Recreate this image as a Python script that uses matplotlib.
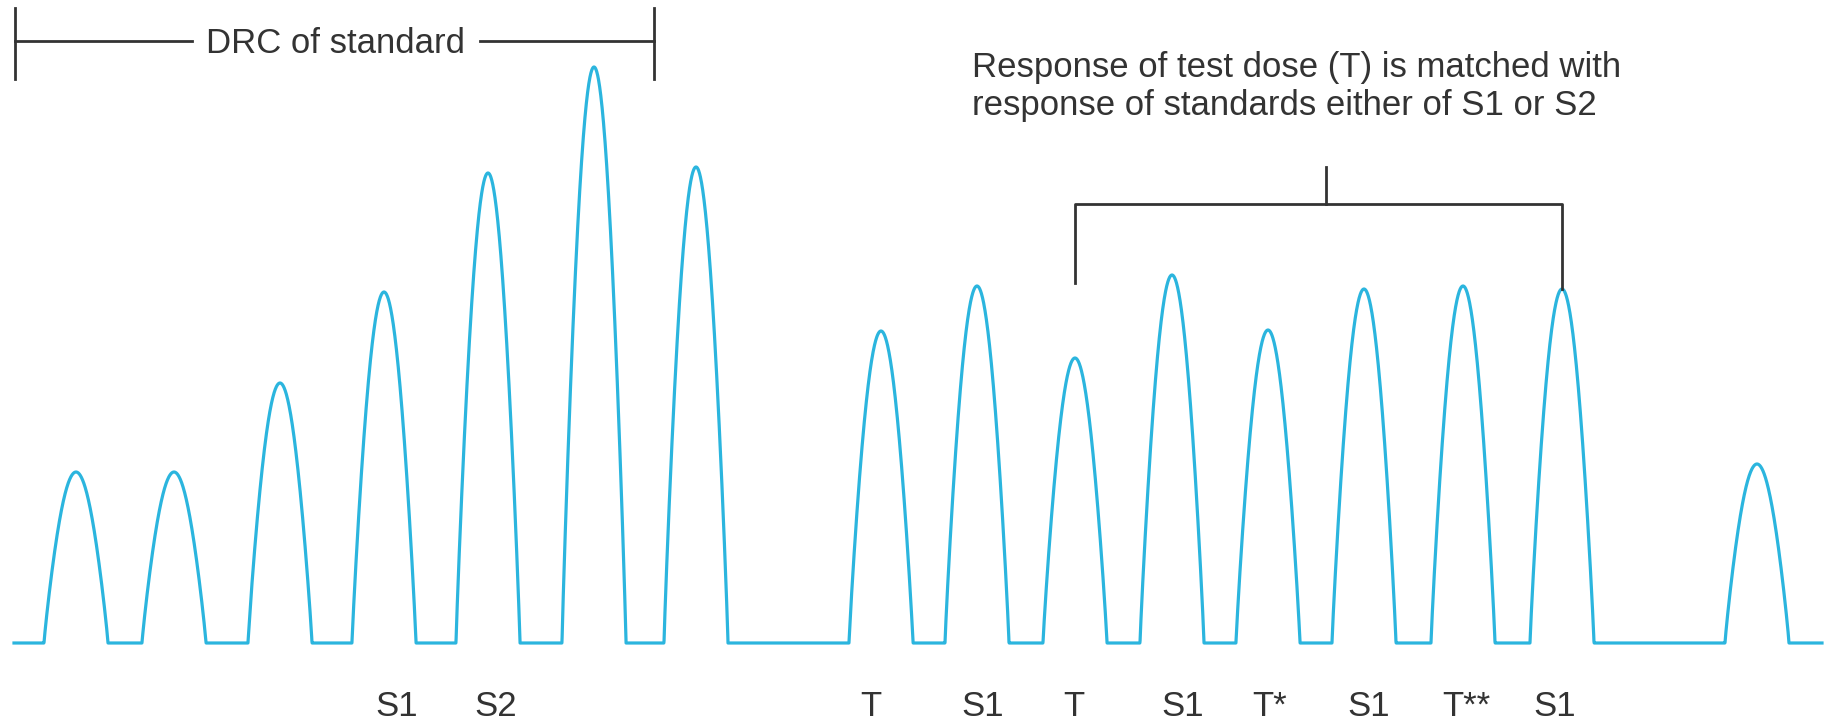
import matplotlib.pyplot as plt
import numpy as np

# ---- peak data (x position, response height above baseline)
std_x = [76, 174, 280, 384, 488, 594, 696]
std_h = [171, 171, 260, 351, 470, 576, 476]
test_x = [881, 977, 1075, 1172, 1268, 1364, 1463, 1562]
test_h = [312, 357, 285, 368, 313, 354, 357, 354]
last_x = [1757]
last_h = [179]

labels = ["S1", "S2", "T", "S1", "T", "S1", "T*", "S1", "T**", "S1"]
label_x = [397, 496, 871, 983, 1074, 1183, 1270, 1369, 1466, 1555]

x_start, x_end = 14, 1822
half_w = 32
blue = "#2bb5de"
ink = "#333333"
font = "Liberation Sans"


def peak_shape(u):
        # arch: 1 at the centre, 0 at |u| = 1
        return np.cos(np.pi * u / 2) ** 0.9


xs = np.linspace(x_start, x_end, 8000)
ys = np.zeros_like(xs)
for px, ph in zip(std_x + test_x + last_x, std_h + test_h + last_h):
        u = (xs - px) / half_w
        inside = np.abs(u) < 1
        ys[inside] = ph * peak_shape(u[inside])

fig = plt.figure(figsize=(18.31, 7.21), dpi=100)
ax = fig.add_axes([0, 0, 1, 1])
ax.set_xlim(0, 1831)
ax.set_ylim(-78, 643)
ax.axis("off")

ax.plot(xs, ys, color=blue, lw=2.3, solid_joinstyle="round")

# ---- DRC of standard bracket
ax.plot([15, 15], [564, 635], color=ink, lw=2)
ax.plot([654, 654], [564, 635], color=ink, lw=2)
ax.plot([15, 192], [602, 602], color=ink, lw=2)
ax.plot([480, 654], [602, 602], color=ink, lw=2)
ax.text(336, 590, "DRC of standard", ha="center", va="baseline",
        fontsize=25, family=font, color=ink)

# ---- matching bracket
ax.plot([test_x[2], test_x[2], test_x[-1], test_x[-1]],
        [360, 439, 439, test_h[-1]], color=ink, lw=2)
ax.plot([1326, 1326], [439, 476], color=ink, lw=2)
ax.text(972, 566, "Response of test dose (T) is matched with", ha="left",
        va="baseline", fontsize=25, family=font, color=ink)
ax.text(972, 528, "response of standards either of S1 or S2", ha="left",
        va="baseline", fontsize=25, family=font, color=ink)

for lx, lab in zip(label_x, labels):
        ax.text(lx, -73, lab, ha="center", va="baseline", fontsize=25,
                family=font, color=ink)

fig.savefig("out.png", dpi=100, facecolor="white")
